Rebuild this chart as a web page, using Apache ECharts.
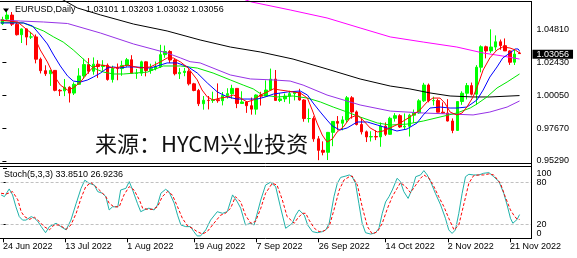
<!DOCTYPE html>
<html><head><meta charset="utf-8">
<script src="https://cdn.jsdelivr.net/npm/echarts@6/dist/echarts.min.js"></script>
<style>html,body{margin:0;padding:0;background:#fff}#c{width:577px;height:258px}</style>
</head><body><div id="c"></div>
<script>
const dates = ["24 Jun 2022","27 Jun 2022","28 Jun 2022","29 Jun 2022","30 Jun 2022",
"1 Jul 2022","4 Jul 2022","5 Jul 2022","6 Jul 2022","7 Jul 2022","8 Jul 2022","11 Jul 2022","12 Jul 2022","13 Jul 2022","14 Jul 2022","15 Jul 2022","18 Jul 2022","19 Jul 2022","20 Jul 2022","21 Jul 2022","22 Jul 2022","25 Jul 2022","26 Jul 2022","27 Jul 2022","28 Jul 2022","29 Jul 2022",
"1 Aug 2022","2 Aug 2022","3 Aug 2022","4 Aug 2022","5 Aug 2022","8 Aug 2022","9 Aug 2022","10 Aug 2022","11 Aug 2022","12 Aug 2022","15 Aug 2022","16 Aug 2022","17 Aug 2022","18 Aug 2022","19 Aug 2022","22 Aug 2022","23 Aug 2022","24 Aug 2022","25 Aug 2022","26 Aug 2022","29 Aug 2022","30 Aug 2022","31 Aug 2022",
"1 Sep 2022","2 Sep 2022","5 Sep 2022","6 Sep 2022","7 Sep 2022","8 Sep 2022","9 Sep 2022","12 Sep 2022","13 Sep 2022","14 Sep 2022","15 Sep 2022","16 Sep 2022","19 Sep 2022","20 Sep 2022","21 Sep 2022","22 Sep 2022","23 Sep 2022","26 Sep 2022","27 Sep 2022","28 Sep 2022","29 Sep 2022","30 Sep 2022",
"3 Oct 2022","4 Oct 2022","5 Oct 2022","6 Oct 2022","7 Oct 2022","10 Oct 2022","11 Oct 2022","12 Oct 2022","13 Oct 2022","14 Oct 2022","17 Oct 2022","18 Oct 2022","19 Oct 2022","20 Oct 2022","21 Oct 2022","24 Oct 2022","25 Oct 2022","26 Oct 2022","27 Oct 2022","28 Oct 2022","31 Oct 2022",
"1 Nov 2022","2 Nov 2022","3 Nov 2022","4 Nov 2022","7 Nov 2022","8 Nov 2022","9 Nov 2022","10 Nov 2022","11 Nov 2022","14 Nov 2022","15 Nov 2022","16 Nov 2022","17 Nov 2022","18 Nov 2022","21 Nov 2022","22 Nov 2022","23 Nov 2022"];

const opens = [1.0521,1.0555,1.0584,1.0518,1.0442,1.0484,1.0425,1.0426,1.0265,1.0182,
1.0160,1.0184,1.0040,1.0036,1.0062,1.0020,1.0083,1.0144,1.0226,1.0178,
1.0229,1.0212,1.0221,1.0118,1.0199,1.0197,1.0220,1.0261,1.0163,1.0164,
1.0246,1.0183,1.0196,1.0211,1.0298,1.0321,1.0259,1.0160,1.0169,1.0178,
1.0087,1.0039,0.9943,0.9968,0.9966,0.9972,0.9965,1.0002,1.0016,1.0054,
0.9945,0.9956,0.9929,0.9904,1.0006,0.9998,1.0042,1.0121,0.9967,0.9978,
0.9998,1.0016,1.0025,0.9970,0.9836,0.9836,0.9689,0.9606,0.9592,0.9736,
0.9815,0.9802,0.9826,0.9986,0.9884,0.9793,0.9740,0.9703,0.9706,0.9703,
0.9781,0.9722,0.9838,0.9857,0.9775,0.9780,0.9860,0.9877,0.9964,1.0078,
0.9965,0.9966,0.9882,0.9876,0.9818,0.9750,0.9959,1.0019,1.0074,1.0012,
1.0207,1.0355,1.0325,1.0353,1.0391,1.0363,1.0325,1.0243,1.03101];
const highs = [1.0572,1.0615,1.0606,1.0532,1.0487,1.0486,1.0463,1.0444,1.0277,1.0221,
1.0188,1.0185,1.0049,1.0122,1.0069,1.0098,1.0200,1.0269,1.0273,1.0278,
1.0258,1.0258,1.0234,1.0218,1.0234,1.0254,1.0274,1.0294,1.0195,1.0254,
1.0250,1.0232,1.0248,1.0369,1.0364,1.0330,1.0268,1.0202,1.0202,1.0192,
1.0094,1.0050,0.9999,0.9999,1.0030,1.0090,1.0028,1.0055,1.0080,1.0056,
1.0033,0.9962,0.9988,1.0011,1.0029,1.0112,1.0197,1.0187,1.0020,1.0017,
1.0037,1.0029,1.0051,0.9976,0.9908,0.9852,0.9709,0.9671,0.9739,0.9815,
0.9854,0.9853,0.9999,0.9998,0.9894,0.9835,0.9749,0.9744,0.9750,0.9808,
0.9808,0.9849,0.9875,0.9867,0.9873,0.9870,0.9901,0.9976,1.0094,1.0089,
0.9994,0.9978,0.9953,0.9976,0.9837,0.9960,1.0033,1.0093,1.0096,1.0222,
1.0365,1.0363,1.0481,1.0437,1.0407,1.0415,1.0330,1.0340,1.03203];
const lows = [1.0512,1.0549,1.0505,1.0436,1.0382,1.0366,1.0411,1.0235,1.0162,1.0144,
1.0072,1.0033,0.9999,0.9998,0.9952,1.0006,1.0080,1.0123,1.0160,1.0153,
1.0130,1.0181,1.0110,1.0096,1.0113,1.0145,1.0210,1.0160,1.0123,1.0144,
1.0141,1.0160,1.0184,1.0202,1.0275,1.0237,1.0148,1.0122,1.0142,1.0075,
1.0033,0.9926,0.9900,0.9902,0.9949,0.9950,0.9931,0.9980,0.9980,0.9911,
0.9943,0.9877,0.9864,0.9864,0.9930,0.9995,1.0040,0.9966,0.9955,0.9955,
0.9943,0.9967,0.9965,0.9813,0.9807,0.9668,0.9535,0.9570,0.9536,0.9636,
0.9750,0.9751,0.9806,0.9835,0.9786,0.9721,0.9666,0.9670,0.9680,0.9632,
0.9710,0.9719,0.9814,0.9768,0.9755,0.9706,0.9806,0.9870,0.9956,0.9953,
0.9931,0.9881,0.9870,0.9815,0.9730,0.9746,0.9935,0.9974,1.0003,0.9935,
1.0170,1.0271,1.0310,1.0328,1.0333,1.0325,1.0224,1.0223,1.03032];
const closes = [1.0552,1.0584,1.0518,1.0442,1.0484,1.0425,1.0426,1.0265,1.0182,1.0160,
1.0184,1.0040,1.0036,1.0062,1.0020,1.0083,1.0144,1.0226,1.0178,1.0229,
1.0212,1.0221,1.0118,1.0199,1.0197,1.0220,1.0261,1.0163,1.0164,1.0246,
1.0183,1.0196,1.0211,1.0298,1.0321,1.0259,1.0160,1.0169,1.0178,1.0087,
1.0039,0.9943,0.9968,0.9966,0.9972,0.9965,1.0002,1.0016,1.0054,0.9945,
0.9956,0.9929,0.9904,1.0006,0.9998,1.0042,1.0121,0.9967,0.9978,0.9998,
1.0016,1.0025,0.9970,0.9836,0.9836,0.9689,0.9606,0.9592,0.9736,0.9815,
0.9802,0.9826,0.9986,0.9884,0.9793,0.9740,0.9703,0.9706,0.9703,0.9781,
0.9722,0.9838,0.9857,0.9775,0.9780,0.9860,0.9877,0.9964,1.0078,0.9965,
0.9966,0.9882,0.9876,0.9818,0.9750,0.9959,1.0019,1.0074,1.0012,1.0207,
1.0355,1.0325,1.0353,1.0391,1.0363,1.0325,1.0243,1.0302,1.03056];

// moving averages: [bar index, price]
const maRed = [[-0.4,1.0548],[3.2,1.0534],[5.2,1.0476],[6.5,1.0440],[7.9,1.0332],[9.4,1.0245],[10.7,1.0151],[12.1,1.0078],[13.6,1.0042],[14.8,1.0057],[16.3,1.0100],[17.8,1.0165],[19.0,1.0209],[20.5,1.0223],[21.9,1.0216],[23.2,1.0201],[24.6,1.0209],[26.1,1.0223],[28.8,1.0201],[30.9,1.0209],[33.0,1.0245],[34.4,1.0274],[35.7,1.0274],[37.2,1.0245],[38.8,1.0201],[40.7,1.0115],[41.7,1.0042],[42.8,0.9992],[44.0,0.9970],[45.5,0.9984],[47.0,0.9992],[48.2,1.0006],[49.7,0.9984],[51.1,0.9956],[52.4,0.9970],[53.9,1.0006],[55.3,1.0028],[56.6,1.0050],[58.0,1.0042],[59.5,1.0035],[60.7,1.0028],[62.2,1.0021],[63.7,0.9984],[64.7,0.9898],[65.7,0.9804],[66.8,0.9717],[67.8,0.9666],[68.9,0.9688],[69.9,0.9739],[71.2,0.9775],[72.6,0.9840],[74.1,0.9862],[75.3,0.9825],[76.8,0.9768],[78.3,0.9739],[79.5,0.9746],[81.0,0.9768],[83.1,0.9804],[85.1,0.9847],[87.2,0.9898],[88.7,0.9956],[89.9,0.9984],[91.4,0.9984],[92.4,0.9948],[93.5,0.9883],[94.9,0.9862],[96.0,0.9876],[97.0,0.9919],[98.3,0.9992],[99.3,1.0078],[100.4,1.0187],[101.8,1.0274],[103.3,1.0332],[104.5,1.0353],[106.0,1.0346],[107.1,1.0332],[108,1.0310]];
const maBlue = [[-0.4,1.0527],[2.3,1.0527],[4.4,1.0527],[6.3,1.0505],[7.9,1.0440],[9.4,1.0375],[10.7,1.0295],[12.1,1.0216],[13.6,1.0144],[14.8,1.0107],[16.3,1.0100],[17.8,1.0115],[19.0,1.0136],[20.5,1.0165],[21.9,1.0201],[23.2,1.0209],[24.6,1.0201],[26.1,1.0209],[27.8,1.0209],[30.9,1.0201],[33.0,1.0223],[34.4,1.0238],[36.5,1.0238],[38.8,1.0209],[40.7,1.0165],[42.8,1.0093],[44.9,1.0028],[47.0,0.9992],[49.0,0.9977],[51.1,0.9977],[53.2,0.9977],[54.9,0.9992],[56.6,1.0013],[59.5,1.0028],[62.2,1.0035],[63.7,1.0006],[64.9,0.9948],[66.4,0.9883],[67.8,0.9825],[68.9,0.9782],[70.5,0.9753],[72.0,0.9768],[74.1,0.9811],[76.2,0.9811],[78.3,0.9789],[80.3,0.9768],[82.4,0.9746],[84.5,0.9760],[86.6,0.9804],[87.9,0.9862],[89.3,0.9912],[91.4,0.9919],[93.5,0.9912],[94.9,0.9912],[97.0,0.9919],[99.1,0.9970],[100.4,1.0042],[101.8,1.0136],[103.3,1.0209],[104.5,1.0274],[106.0,1.0310],[107.1,1.0339],[107.7,1.0339],[108,1.0324]];
const maGreen = [[-0.4,1.0534],[4.4,1.0527],[6.5,1.0498],[8.6,1.0469],[10.7,1.0426],[12.7,1.0389],[14.8,1.0332],[16.9,1.0266],[19.0,1.0201],[21.1,1.0172],[23.2,1.0158],[25.3,1.0158],[27.8,1.0165],[30.3,1.0172],[33.6,1.0216],[37.2,1.0216],[40.7,1.0201],[44.0,1.0165],[47.6,1.0115],[50.3,1.0078],[52.4,1.0050],[54.3,1.0006],[57.4,0.9992],[60.7,0.9999],[63.7,0.9984],[66.4,0.9956],[69.1,0.9919],[72.0,0.9883],[74.7,0.9847],[78.3,0.9804],[81.0,0.9789],[84.5,0.9796],[87.9,0.9818],[91.4,0.9847],[94.9,0.9876],[97.7,0.9912],[99.1,0.9941],[101.2,0.9992],[103.3,1.0057],[105.4,1.0100],[108,1.0158]];
const maViolet = [[-0.4,1.0548],[3.8,1.0541],[8.6,1.0534],[13.6,1.0523],[20.5,1.0454],[27.4,1.0375],[34.4,1.0310],[37.2,1.0274],[39.2,1.0247],[41.3,1.0238],[47.6,1.0151],[51.8,1.0122],[56.6,1.0115],[60.1,1.0107],[62.8,1.0078],[67.8,1.0006],[74.7,0.9934],[81.0,0.9890],[87.9,0.9876],[93.5,0.9869],[98.3,0.9862],[101.8,0.9883],[105.4,0.9919],[108,0.9963]];
const maBlack = [[10.0,1.0744],[12.7,1.0693],[15.7,1.0635],[20.5,1.0585],[27.4,1.0519],[34.4,1.0469],[41.3,1.0404],[47.6,1.0353],[53.9,1.0317],[60.7,1.0266],[67.8,1.0194],[74.7,1.0122],[81.0,1.0071],[85.1,1.0050],[89.3,1.0021],[93.5,0.9999],[98.3,0.9992],[101.8,0.9992],[108,1.0002]];
const maMagenta = [[49.7,1.0707],[52.0,1.0679],[60.1,1.0621],[67.8,1.0563],[74.7,1.0491],[81.0,1.0426],[87.9,1.0389],[94.9,1.0353],[100.4,1.0310],[104.5,1.0288],[108,1.0266]];

// Stochastic (5,3,3): [bar index, value]
const stochK = [[-0.4,62],[0.3,59.5],[1.3,70.5],[2.0,62],[2.7,45],[3.4,31],[4.1,26],[4.8,26],[5.9,31],[6.6,28.6],[7.3,24],[8.0,16.7],[8.9,8],[9.7,16.7],[11.1,21.5],[12.1,16.7],[13.2,12],[14.2,26],[15.3,50],[16.3,71],[17.1,83],[18.0,78.6],[19.1,76],[19.8,66.7],[20.8,64.3],[21.5,59.5],[22.2,40.5],[22.9,45],[24.0,45],[24.6,69],[25.7,71.4],[26.4,81],[27.1,69],[28.1,50],[28.8,38],[29.5,40.5],[30.5,43],[31.6,40.5],[32.3,47.6],[33.0,64.3],[34.0,70],[34.7,66.7],[35.8,50],[36.5,33],[37.2,19],[38.2,16.7],[39.2,16.7],[39.9,9.5],[40.6,3.4],[41.3,3.4],[42.4,12],[43.4,26],[44.8,38],[45.9,35.7],[46.9,38],[48.0,62],[49.0,52],[49.7,43],[50.7,19],[51.8,21.5],[52.5,19],[53.9,54.8],[54.9,76],[55.9,80],[57.0,74],[58.0,45],[59.1,14.3],[59.5,16.7],[60.5,21.5],[61.2,33],[61.9,40.5],[62.3,41.4],[63.0,33],[63.7,19],[64.7,9.5],[65.7,8],[66.8,9.5],[67.5,12],[68.2,21.5],[69.2,59.5],[69.9,78.6],[70.6,87],[71.7,89],[72.4,90.5],[73.0,88],[73.7,78.6],[74.4,50],[75.1,21.5],[75.8,8],[76.9,6],[77.9,8],[78.6,14.3],[79.3,35.7],[80.0,52],[80.7,59.5],[81.4,69],[82.4,85.7],[83.1,81],[83.8,66.7],[84.7,57],[85.6,71.4],[86.3,88],[87.3,90.5],[88.0,96.7],[88.7,90.5],[89.4,81],[90.4,64.3],[91.5,47.6],[92.5,28.6],[93.2,12],[93.9,7],[94.6,12],[95.3,35.7],[96.0,64.3],[96.7,88],[97.4,91.4],[98.4,90.5],[99.5,90.5],[100.5,92.9],[101.6,93.8],[102.6,88],[103.7,81],[104.7,64.3],[105.4,47.6],[106.1,28.6],[106.6,21.5],[107.5,27],[108,33.851]];
const stochD = [[-0.4,64.3],[0.7,63.3],[2.0,66.7],[3.1,55],[3.8,38],[4.5,31],[5.5,27],[6.6,30],[7.6,24],[8.6,16.7],[9.7,12],[10.7,19],[11.8,19],[13.2,12.9],[14.2,19],[15.3,35.7],[16.3,57],[17.3,73.8],[18.4,79.5],[19.4,73.8],[20.5,66.7],[21.5,59.5],[22.2,50],[23.2,45],[24.3,45],[25.3,62],[26.4,73.8],[27.4,69],[28.5,55],[29.2,43],[30.2,41.4],[31.3,41.4],[32.3,45],[33.3,59.5],[34.4,66.7],[35.4,62],[36.5,45],[37.5,28.6],[38.6,17.6],[39.6,14.3],[40.6,9.5],[41.7,6.2],[42.7,9.5],[44.1,21.5],[45.5,33],[46.5,35.7],[47.6,43],[48.6,59.5],[49.7,52],[50.7,33],[51.8,21.5],[52.8,24],[53.9,43],[54.9,64.3],[56.3,78.6],[57.3,76],[58.4,55],[59.4,31],[60.2,26],[60.9,21.5],[61.6,28.6],[62.6,35.7],[63.3,35.7],[64.0,26],[65.1,14.3],[66.1,9.5],[67.1,10.5],[68.2,16.7],[69.2,40.5],[70.3,69],[71.3,83.3],[72.4,88],[73.0,89],[74.1,76],[75.1,45],[76.2,16.7],[77.2,6.2],[78.3,9.5],[79.3,21.5],[80.4,43],[81.4,59.5],[82.4,71.4],[83.1,79.5],[84.2,73.8],[85.2,65.2],[86.3,76],[87.3,85.7],[88.0,90.5],[89.1,85.7],[90.1,73.8],[91.1,59.5],[92.2,45],[93.2,28.6],[94.3,12],[95.3,19],[96.4,50],[97.4,78.6],[98.4,89.5],[99.5,90.5],[100.5,90.5],[101.6,92],[102.6,90.5],[104.0,78.6],[105.0,59.5],[106.1,40.5],[106.8,33],[107.5,27],[108,26.9236]];

const priceTicks = [0.9529, 0.9767, 1.0005, 1.0243, 1.0481];
const stochTicks = [0, 20, 80, 100];
const stochLabelVals = [0, 20, 80];
const stochTopLabel = '100';
const stochLevels = [20, 80];
const dateLabelIdx = [0, 13, 26, 40, 53, 66, 80, 93, 106];
const lastPrice = 1.03056;
const titleText = 'EURUSD,Daily';
const ohlcText = '1.03101 1.03203 1.03032 1.03056';
const stochText = 'Stoch(5,3,3) 33.8510 26.9236';
const watermark = '来源：HYCM兴业投资';

const NCAT = 111;
const cats = dates.concat(['', '']);
const candles = dates.map((d, i) => [opens[i], closes[i], lows[i], highs[i]]);
const FONT = '"Liberation Sans", Arial, sans-serif';
const showDate = (idx) => dateLabelIdx.indexOf(idx) >= 0;

const chart = echarts.init(document.getElementById('c'), null, {renderer: 'canvas'});
function ma(data, color) {
  return {type: 'line', xAxisIndex: 1, yAxisIndex: 0, data: data, showSymbol: false, symbol: 'none',
    lineStyle: {width: 1, color: color}, itemStyle: {color: color}, silent: true, z: 3};
}
const line = (x1, y1, x2, y2) => ({type: 'line', silent: true, z: 50,
  shape: {x1: x1, y1: y1, x2: x2, y2: y2}, style: {stroke: '#000', lineWidth: 1}});

chart.setOption({
  animation: false,
  backgroundColor: '#fff',
  textStyle: {fontFamily: FONT},
  grid: [
    {left: -0.5, top: 0, width: 532, height: 161},
    {left: -0.5, top: 168.3, width: 532, height: 70}
  ],
  xAxis: [
    {type: 'category', gridIndex: 0, data: cats, boundaryGap: true, show: false},
    {type: 'value', gridIndex: 0, min: -0.5, max: NCAT - 0.5, show: false},
    {type: 'category', gridIndex: 1, data: cats, boundaryGap: true,
      axisLine: {show: false},
      axisTick: {show: true, interval: showDate, alignWithLabel: true, length: 4, lineStyle: {color: '#000'}},
      axisLabel: {show: true, interval: showDate, align: 'left', margin: 4, fontSize: 9, color: '#000', fontFamily: FONT},
      splitLine: {show: false}},
    {type: 'value', gridIndex: 1, min: -0.5, max: NCAT - 0.5, show: false}
  ],
  yAxis: [
    {type: 'value', gridIndex: 0, position: 'right', min: 0.9529, max: 1.0693, scale: true,
      axisLine: {show: false},
      axisTick: {show: true, length: 4, customValues: priceTicks, lineStyle: {color: '#000'}},
      axisLabel: {show: true, margin: 5, fontSize: 9, color: '#000', fontFamily: FONT,
        showMinLabel: true, showMaxLabel: true,
        customValues: priceTicks, formatter: (v) => v.toFixed(5)},
      splitLine: {show: false}},
    {type: 'value', gridIndex: 1, position: 'right', min: 0, max: 100,
      axisLine: {show: false},
      axisTick: {show: true, length: 4, customValues: stochTicks, lineStyle: {color: '#000'}},
      axisLabel: {show: true, margin: 5, fontSize: 9, color: '#000', fontFamily: FONT,
        showMinLabel: true, hideOverlap: false, verticalAlignMinLabel: 'bottom',
        customValues: stochLabelVals, formatter: (v) => String(v)},
      splitLine: {show: false}}
  ],
  series: [
    {type: 'candlestick', xAxisIndex: 0, yAxisIndex: 0, data: candles, barWidth: 3, silent: true,
      itemStyle: {color: '#00ff00', color0: '#ff0000', borderColor: '#00ff00', borderColor0: '#ff0000', borderWidth: 1},
      markLine: {silent: true, symbol: ['none', 'none'], data: [{yAxis: lastPrice}],
        lineStyle: {color: 'rgba(0,0,0,0)', width: 0},
        label: {show: true, position: 'end', distance: 1, formatter: lastPrice.toFixed(5),
          color: '#fff', backgroundColor: '#000', padding: [0, 4, 0, 4], lineHeight: 9, fontSize: 9, fontFamily: FONT}}},
    ma(maViolet, '#9632e6'),
    ma(maBlack, '#000000'),
    ma(maMagenta, '#ff00ff'),
    ma(maGreen, '#00e600'),
    ma(maBlue, '#0000ff'),
    ma(maRed, '#ff0000'),
    {type: 'line', xAxisIndex: 3, yAxisIndex: 1, data: stochK, showSymbol: false, symbol: 'none', silent: true,
      lineStyle: {width: 1, color: '#20b2aa'}, z: 4,
      markLine: {silent: true, symbol: ['none', 'none'], data: stochLevels.map(v => ({yAxis: v})),
        lineStyle: {color: '#c0c0c0', width: 1, type: [3, 2]}, label: {show: false}}},
    {type: 'line', xAxisIndex: 3, yAxisIndex: 1, data: stochD, showSymbol: false, symbol: 'none', silent: true,
      lineStyle: {width: 1, color: '#ff0000', type: [3, 2]}, z: 5}
  ],
  graphic: [
    line(0, 1.5, 531.5, 1.5),
    line(531.5, 1, 531.5, 239),
    line(0, 163.5, 531.5, 163.5),
    line(0, 166.5, 531.5, 166.5),
    line(0, 238.5, 531.5, 238.5),
    {type: 'polygon', silent: true, z: 60, shape: {points: [[3, 8.5], [9, 8.5], [6, 12.5]]}, style: {fill: '#000'}},
    {type: 'text', silent: true, z: 60, x: 15, y: 9.5,
      style: {text: titleText, fill: '#000', font: '9px ' + FONT, verticalAlign: 'middle'}},
    {type: 'text', silent: true, z: 60, x: 86, y: 9.5,
      style: {text: ohlcText, fill: '#000', font: '9px ' + FONT, verticalAlign: 'middle'}},
    {type: 'text', silent: true, z: 60, x: 4, y: 175,
      style: {text: stochText, fill: '#000', font: '9px ' + FONT, verticalAlign: 'middle'}},
    {type: 'text', silent: true, z: 60, x: 536.5, y: 173.3,
      style: {text: stochTopLabel, fill: '#000', font: '9px ' + FONT, verticalAlign: 'middle'}},
    {type: 'text', silent: true, z: 70, x: 95, y: 144,
      style: {text: watermark, fill: '#111', font: '22px "Noto Sans CJK SC"', verticalAlign: 'middle'}}
  ]
});
</script>
</body></html>
